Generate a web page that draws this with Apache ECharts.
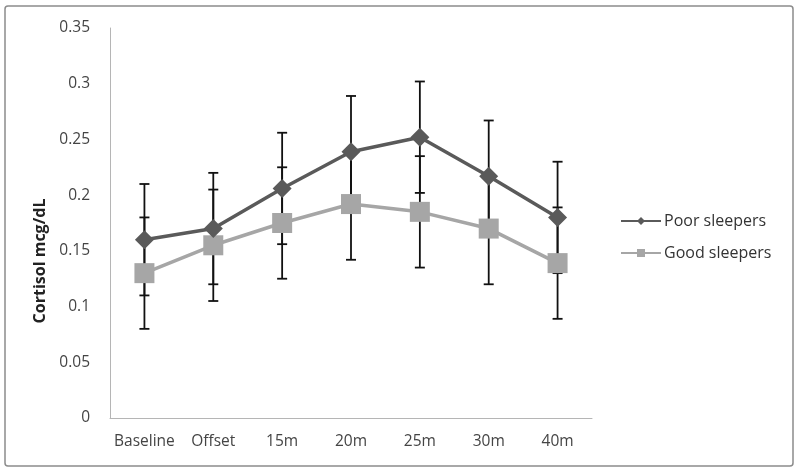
<!DOCTYPE html>
<html>
<head>
<meta charset="utf-8">
<script src="https://cdn.jsdelivr.net/npm/echarts@6/dist/echarts.min.js"></script>
<style>
  html, body { margin: 0; padding: 0; background: #fff; }
  #chart { width: 800px; height: 474px; }
</style>
</head>
<body>
<div id="chart"></div>
<script>
// data
const categories = ['Baseline', 'Offset', '15m', '20m', '25m', '30m', '40m'];
const poorSleepers = [0.160, 0.170, 0.206, 0.239, 0.252, 0.217, 0.180];
const goodSleepers = [0.130, 0.155, 0.175, 0.192, 0.185, 0.170, 0.139];
const poorErr = [0.05, 0.05, 0.05, 0.05, 0.05, 0.05, 0.05];
const goodErr = [0.05, 0.05, 0.05, 0.05, 0.05, 0.05, 0.05];

const chart = echarts.init(document.getElementById('chart'));

function errData(mean, err) {
  return mean.map((v, i) => [i, v - err[i], v + err[i]]);
}

function renderErr(params, api) {
  const i = api.value(0);
  const lo = api.coord([i, api.value(1)]);
  const hi = api.coord([i, api.value(2)]);
  const w = 5;
  const style = { stroke: '#111', lineWidth: 1.8 };
  return {
    type: 'group',
    children: [
      { type: 'line', shape: { x1: lo[0], y1: lo[1], x2: hi[0], y2: hi[1] }, style: style },
      { type: 'line', shape: { x1: lo[0] - w, y1: lo[1], x2: lo[0] + w, y2: lo[1] }, style: style },
      { type: 'line', shape: { x1: hi[0] - w, y1: hi[1], x2: hi[0] + w, y2: hi[1] }, style: style }
    ]
  };
}

const font = 'Open Sans, Liberation Sans, sans-serif';

chart.setOption({
  animation: false,
  grid: { left: 110, right: 208, top: 28, bottom: 56 },
  graphic: [
    {
      type: 'rect',
      shape: { x: 5, y: 6, width: 788, height: 460, r: 3 },
      style: { fill: 'none', stroke: '#8c8c8c', lineWidth: 1.5 },
      silent: true
    },
    {
      type: 'text',
      x: 40,
      y: 261,
      rotation: Math.PI / 2,
      style: {
        text: 'Cortisol mcg/dL',
        font: 'bold 16px ' + font,
        fill: '#222',
        textAlign: 'center',
        textVerticalAlign: 'middle'
      }
    }
  ],
  legend: {
    orient: 'vertical',
    left: 620,
    top: 213,
    padding: 0,
    itemWidth: 40,
    itemHeight: 10,
    itemGap: 16,
    textStyle: { fontFamily: font, fontSize: 16, color: '#333', padding: [0, 0, 0, -2] },
    data: ['Poor sleepers', 'Good sleepers']
  },
  xAxis: {
    type: 'category',
    data: categories,
    axisLine: { lineStyle: { color: '#b5b5b5', width: 1 } },
    axisTick: { show: false },
    axisLabel: { color: '#444', fontFamily: font, fontSize: 15.5, margin: 16, interval: 0 }
  },
  yAxis: {
    type: 'value',
    min: 0,
    max: 0.35,
    interval: 0.05,
    axisLine: { show: true, lineStyle: { color: '#b5b5b5', width: 1 } },
    axisTick: { show: false },
    splitLine: { show: false },
    axisLabel: {
      color: '#444', fontFamily: font, fontSize: 15.5, margin: 20,
      formatter: v => String(parseFloat(v.toFixed(2)))
    }
  },
  series: [
    {
      name: 'goodErr',
      type: 'custom',
      renderItem: renderErr,
      data: errData(goodSleepers, goodErr),
      z: 1
    },
    {
      name: 'poorErr',
      type: 'custom',
      renderItem: renderErr,
      data: errData(poorSleepers, poorErr),
      z: 1
    },
    {
      name: 'Good sleepers',
      type: 'line',
      data: goodSleepers,
      symbol: 'rect',
      symbolSize: 20,
      lineStyle: { color: '#a6a6a6', width: 3.5 },
      itemStyle: { color: '#a6a6a6' },
      z: 3
    },
    {
      name: 'Poor sleepers',
      type: 'line',
      data: poorSleepers,
      symbol: 'diamond',
      symbolSize: 19,
      lineStyle: { color: '#5a5a5a', width: 3.5 },
      itemStyle: { color: '#5a5a5a' },
      z: 4
    }
  ]
});
</script>
</body>
</html>
